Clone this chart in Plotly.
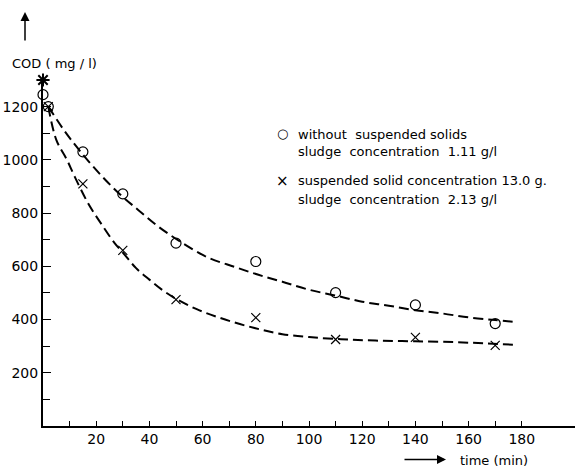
import plotly.graph_objects as go

# ---- data ----
circle_t = [0, 2, 15, 30, 50, 80, 110, 140, 170]
circle_cod = [1245, 1200, 1030, 872, 687, 618, 501, 455, 385]

cross_t = [2, 15, 30, 50, 80, 110, 140, 170]
cross_cod = [1200, 910, 660, 475, 407, 325, 333, 303]

start_t = [0]
start_cod = [1300]

curve1_t = [2, 8, 14, 22, 29, 36, 43, 52, 62, 72, 81, 90, 100, 110, 120, 130, 140, 150, 160, 170, 178]
curve1_cod = [1200, 1110, 1032, 940, 870, 810, 752, 690, 633, 598, 568, 542, 512, 490, 467, 452, 435, 423, 408, 398, 390]

curve2_t = [2, 5, 9, 12, 17, 22, 27, 30, 35, 40, 45, 50, 58, 66, 74, 82, 90, 100, 112, 125, 140, 155, 167, 178]
curve2_cod = [1200, 1075, 1000, 935, 836, 758, 686, 652, 593, 550, 510, 478, 438, 408, 383, 362, 345, 334, 326, 321, 318, 315, 310, 305]

x_labels = [20, 40, 60, 80, 100, 120, 140, 160, 180]
x_minor = [10, 30, 50, 70, 90, 110, 130, 150, 170]
y_labels = [200, 400, 600, 800, 1000, 1200]
y_minor = [100, 300, 500, 700, 900, 1100]

legend_lines = [
    "without  suspended solids",
    "sludge  concentration  1.11 g/l",
    "suspended solid concentration 13.0 g.",
    "sludge  concentration  2.13 g/l",
]

FONT = "DejaVu Sans"
W, H = 575, 473
L, R, T, B = 43, 0, 80, 46.5
PW, PH = W - L - R, H - T - B


def px(xp):
    return (xp - L) / PW


def py(yp):
    return (H - B - yp) / PH


fig = go.Figure()

dash = "10px,5px"
fig.add_trace(go.Scatter(x=curve1_t, y=curve1_cod, mode="lines", line=dict(color="black", width=2, dash=dash, shape="spline"), cliponaxis=False, hoverinfo="skip"))
fig.add_trace(go.Scatter(x=curve2_t, y=curve2_cod, mode="lines", line=dict(color="black", width=2, dash=dash, shape="spline"), cliponaxis=False, hoverinfo="skip"))

fig.add_trace(go.Scatter(x=circle_t, y=circle_cod, mode="markers",
                         marker=dict(symbol="circle-open", size=10, color="black", line=dict(width=1.2, color="black")), cliponaxis=False))
fig.add_trace(go.Scatter(x=cross_t, y=cross_cod, mode="markers",
                         marker=dict(symbol="x-thin-open", size=9, color="black", line=dict(width=1.2, color="black")), cliponaxis=False))
fig.add_trace(go.Scatter(x=start_t, y=start_cod, mode="markers",
                         marker=dict(symbol="asterisk-open", size=11, color="black", line=dict(width=2, color="black")), cliponaxis=False))

annotations = []
# y-axis label and arrow
annotations.append(dict(xref="paper", yref="paper", x=px(54), y=py(63), text="COD ( mg / l)", showarrow=False,
                        xanchor="center", yanchor="middle", font=dict(family=FONT, size=13, color="black")))
annotations.append(dict(xref="paper", yref="paper", x=px(25), y=py(12), text="", showarrow=True, ax=0, ay=30,
                        arrowhead=2, arrowsize=1.2, arrowwidth=1.5, arrowcolor="black", standoff=0))
# x-axis label and arrow
annotations.append(dict(xref="paper", yref="paper", x=px(458), y=py(461), text="time (min)", showarrow=False,
                        xanchor="left", yanchor="middle", font=dict(family=FONT, size=13, color="black")))
annotations.append(dict(xref="paper", yref="paper", x=px(446), y=py(460), text="", showarrow=True, ax=-43, ay=0,
                        arrowhead=2, arrowsize=1.2, arrowwidth=1.5, arrowcolor="black", standoff=0))
# legend
legend_y = [135, 152, 181, 200]
for txt, yy in zip(legend_lines, legend_y):
    annotations.append(dict(xref="paper", yref="paper", x=px(296), y=py(yy), text=txt, showarrow=False,
                            xanchor="left", yanchor="middle", font=dict(family=FONT, size=13, color="black")))
annotations.append(dict(xref="paper", yref="paper", x=px(282), y=py(134), text="○", showarrow=False,
                        xanchor="center", yanchor="middle", font=dict(family=FONT, size=13, color="black")))
annotations.append(dict(xref="paper", yref="paper", x=px(282), y=py(181), text="×", showarrow=False,
                        xanchor="center", yanchor="middle", font=dict(family=FONT, size=15, color="black")))

fig.update_layout(
    width=W, height=H,
    margin=dict(l=L, r=R, t=T, b=B, pad=0),
    paper_bgcolor="white", plot_bgcolor="white",
    showlegend=False,
    hovermode=False,
    font=dict(family=FONT, size=14, color="black"),
    annotations=annotations,
    xaxis=dict(range=[0, 200], showgrid=False, zeroline=False, showline=True, linecolor="black", linewidth=1.5,
               automargin=False,
               tickmode="array", tickvals=x_labels, ticktext=[str(v) for v in x_labels],
               ticks="inside", ticklen=5, tickwidth=1, tickcolor="black",
               minor=dict(tickmode="array", tickvals=x_minor, ticks="inside", ticklen=5, tickwidth=1, tickcolor="black"),
               tickfont=dict(family=FONT, size=14, color="black")),
    yaxis=dict(range=[0, 1300], showgrid=False, zeroline=False, showline=True, linecolor="black", linewidth=2,
               automargin=False,
               tickmode="array", tickvals=y_labels, ticktext=[str(v) for v in y_labels],
               ticks="inside", ticklen=8, tickwidth=1, tickcolor="black",
               minor=dict(tickmode="array", tickvals=y_minor, ticks="inside", ticklen=7, tickwidth=1, tickcolor="black"),
               tickfont=dict(family=FONT, size=14, color="black")),
)

fig.write_html("out.html", config={"displayModeBar": False, "staticPlot": True},
               post_script="document.body.style.margin='0px';document.body.style.overflow='hidden';")
